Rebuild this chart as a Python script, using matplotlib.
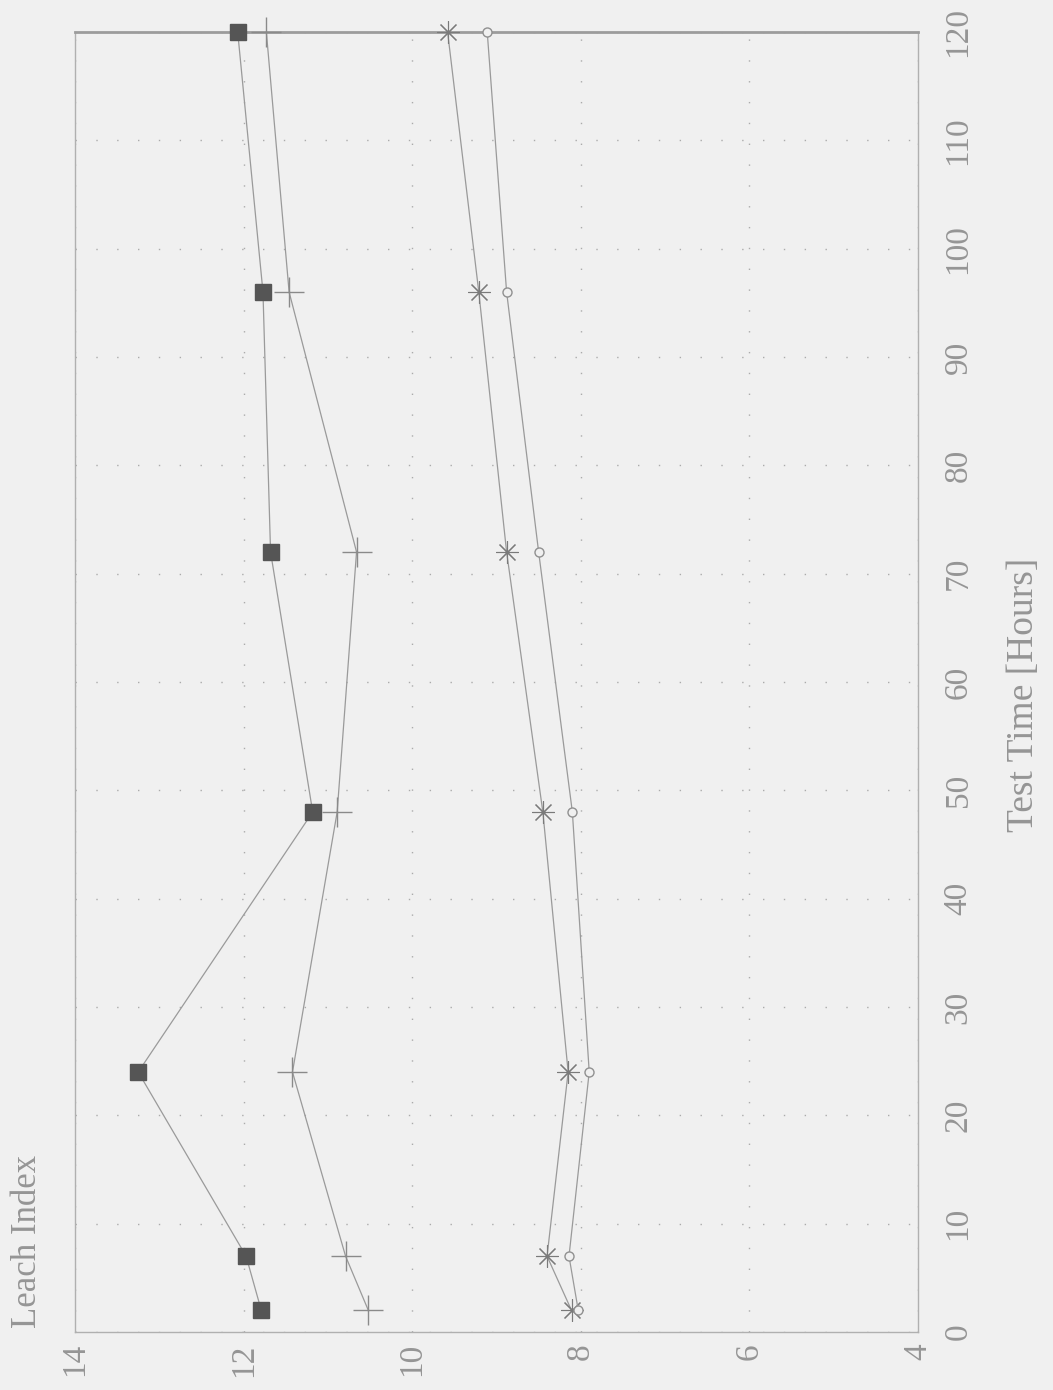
import matplotlib
matplotlib.use("Agg")
import matplotlib.pyplot as plt

# ---- data ----
time_h = [2, 7, 24, 48, 72, 96, 120]
series_square = [11.79, 11.97, 13.25, 11.18, 11.68, 11.77, 12.07]
series_plus = [10.52, 10.79, 11.42, 10.89, 10.66, 11.46, 11.73]
series_star = [8.11, 8.40, 8.15, 8.45, 8.88, 9.21, 9.58]
series_circle = [8.03, 8.14, 7.90, 8.10, 8.50, 8.88, 9.11]

leach_ticks = [14, 12, 10, 8, 6, 4]
time_ticks = [0, 10, 20, 30, 40, 50, 60, 70, 80, 90, 100, 110, 120]

plt.rcParams['font.family'] = ['Liberation Serif', 'DejaVu Serif']

BG = '#f0f0f0'
TXT = '#959595'
LN = '#9a9a9a'

fig = plt.figure(figsize=(10.53, 13.90), dpi=100, facecolor=BG)
ax = fig.add_axes([0.0712, 0.0417, 0.8006, 0.9353], facecolor=BG)

# series (chart rotated: leach index horizontal, time vertical)
ax.plot(series_square, time_h, color=LN, lw=0.9, marker='s', ms=11,
        mfc='#555555', mec='#555555', clip_on=False, zorder=4)
ax.plot(series_plus, time_h, color=LN, lw=0.9, marker='+', ms=22, mew=1.0,
        mec='#8a8a8a', clip_on=False, zorder=4)
ax.plot(series_star, time_h, color=LN, lw=0.9, marker=(8, 2, 0), ms=16,
        mew=0.8, mec='#7a7a7a', clip_on=False, zorder=4)
ax.plot(series_circle, time_h, color=LN, lw=0.9, marker='o', ms=6.5,
        mfc=BG, mec='#909090', mew=1.0, clip_on=False, zorder=4)

ax.set_xlim(14, 4)
ax.set_ylim(0, 120)

ax.set_xticks(leach_ticks)
ax.set_xticklabels([str(v) for v in leach_ticks], rotation=90)
ax.set_yticks(time_ticks)
ax.set_yticklabels([str(v) for v in time_ticks], rotation=90, va='center')

ax.yaxis.tick_right()
ax.yaxis.set_label_position('right')
ax.tick_params(axis='both', length=0, labelsize=24, labelcolor=TXT)
ax.tick_params(axis='x', pad=8)
ax.tick_params(axis='y', pad=18)

ax.grid(True, color='#ababab', lw=1.0, linestyle=(0, (1, 14)))
ax.set_axisbelow(True)

for side in ['left', 'bottom', 'right']:
    ax.spines[side].set_color('#b0b0b0')
    ax.spines[side].set_linewidth(1.0)
ax.spines['top'].set_color('#9c9c9c')
ax.spines['top'].set_linewidth(2.0)

ax.set_ylabel('Test Time [Hours]', rotation=90, fontsize=27, color=TXT)
ax.yaxis.set_label_coords(1.105, 0.49)

fig.text(28 / 1053, 1 - 1328 / 1390, 'Leach Index', rotation=90,
         ha='center', va='bottom', fontsize=25, color=TXT)

fig.savefig('out.png', dpi=100, facecolor=BG)
